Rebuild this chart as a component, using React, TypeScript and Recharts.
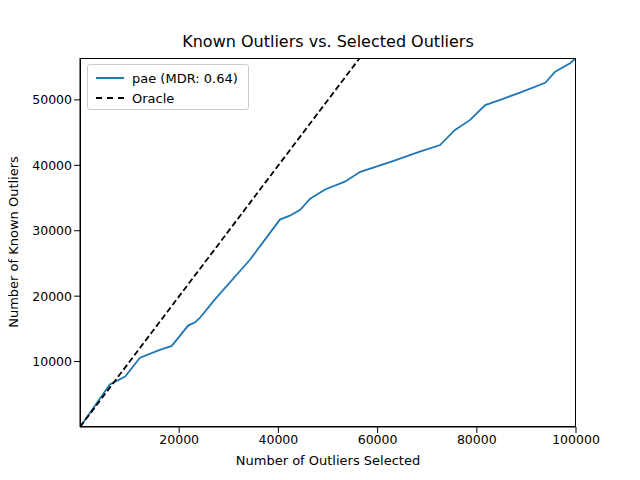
import { LineChart, Line, XAxis, YAxis } from "recharts";

const selected = [0, 6000, 9100, 12100, 16100, 18500, 21800, 23200, 24200, 27200, 34300, 40300, 42300, 44400, 46400, 49400, 53400, 56500, 62500, 68500, 72600, 75600, 78600, 81700, 84700, 88700, 93800, 95800, 98800, 100000];
const known = [0, 6500, 7700, 10600, 11800, 12400, 15500, 16000, 16700, 19500, 25600, 31700, 32300, 33200, 34900, 36300, 37500, 39000, 40500, 42100, 43100, 45400, 46900, 49200, 50000, 51100, 52600, 54300, 55600, 56400];
const oracleX = [0, 56400];
const xTicks = [20000, 40000, 60000, 80000, 100000];
const yTicks = [10000, 20000, 30000, 40000, 50000];

const paeData = selected.map((x, i) => ({ x, y: known[i] }));
const oracleData = oracleX.map((x) => ({ x, y: x }));

const font = "DejaVu Sans, sans-serif";
const tick = { fill: "#000", fontSize: 12.5, fontFamily: font };

export default function App() {
  return (
    <div style={{ position: "relative", width: 640, height: 480, margin: -8, background: "#fff", fontFamily: font }}>
      <div style={{ position: "absolute", top: 32, left: 80, width: 496, textAlign: "center", fontSize: 16 }}>
        Known Outliers vs. Selected Outliers
      </div>
      <LineChart width={640} height={480} margin={{ top: 58, right: 64, bottom: 0, left: 0 }}>
        <XAxis
          type="number"
          dataKey="x"
          domain={[0, 100000]}
          ticks={xTicks}
          height={53}
          tick={tick}
          tickLine={{ stroke: "#000" }}
          axisLine={{ stroke: "#000" }}
          allowDataOverflow
        />
        <YAxis
          type="number"
          dataKey="y"
          domain={[0, 56400]}
          ticks={yTicks}
          width={80}
          tick={tick}
          tickLine={{ stroke: "#000" }}
          axisLine={{ stroke: "#000" }}
          allowDataOverflow
        />
        <Line data={paeData} dataKey="y" type="linear" stroke="#1f77b4" strokeWidth={1.8} dot={false} isAnimationActive={false} />
        <Line data={oracleData} dataKey="y" type="linear" stroke="#000" strokeWidth={1.8} strokeDasharray="6 3" dot={false} isAnimationActive={false} />
      </LineChart>
      <div style={{ position: "absolute", left: 80, top: 453, width: 496, textAlign: "center", fontSize: 13 }}>
        Number of Outliers Selected
      </div>
      <div style={{ position: "absolute", left: 13, top: 242, width: 0, height: 0 }}>
        <div style={{ position: "absolute", transform: "translate(-50%, -50%) rotate(-90deg)", whiteSpace: "nowrap", fontSize: 13 }}>
          Number of Known Outliers
        </div>
      </div>
      <div style={{ position: "absolute", left: 80, top: 58, width: 496, height: 369, border: "1px solid #000", boxSizing: "border-box", pointerEvents: "none" }} />
      <div style={{ position: "absolute", left: 87, top: 64, width: 162, height: 46, border: "1px solid #ccc", borderRadius: 3, background: "#fff", fontSize: 13, boxSizing: "border-box", padding: "3px 8px" }}>
        <div style={{ display: "flex", alignItems: "center", height: 20 }}>
          <span style={{ width: 28, borderTop: "2px solid #1f77b4", marginRight: 8 }} />pae (MDR: 0.64)
        </div>
        <div style={{ display: "flex", alignItems: "center", height: 20 }}>
          <span style={{ width: 28, borderTop: "2px dashed #000", marginRight: 8 }} />Oracle
        </div>
      </div>
    </div>
  );
}
